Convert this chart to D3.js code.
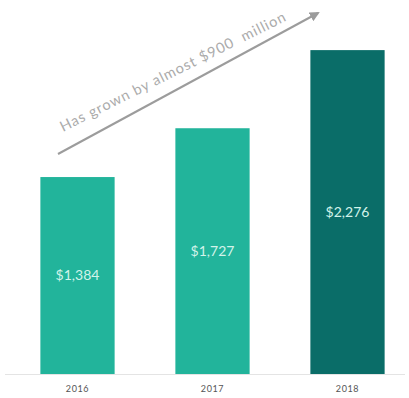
<!DOCTYPE html>
<html>
<head>
<meta charset="utf-8">
<script src="https://cdn.jsdelivr.net/npm/d3@7"></script>
<style>
  html, body { margin: 0; padding: 0; background: #fff; }
  svg { display: block; }
</style>
</head>
<body>
<svg id="chart" width="409" height="398"></svg>
<script>
// Annual totals, in $ millions
const years = ["2016", "2017", "2018"];
const values = [1384, 1727, 2276];
const barColors = ["#22b49b", "#22b49b", "#0a6d68"];
const valueLabels = ["$1,384", "$1,727", "$2,276"];
const growthNote = "Has grown by almost $900  million";

const svg = d3.select("#chart");
const W = 409, H = 398;
const baseY = 374;

const x = d3.scaleBand()
  .domain(years)
  .range([10, 415])
  .paddingInner(0.45)
  .paddingOuter(0.225);

const y = d3.scaleLinear()
  .domain([0, 2600])
  .range([baseY, 4]);

// baseline
svg.append("line")
  .attr("x1", 5).attr("x2", 405)
  .attr("y1", baseY + 0.5).attr("y2", baseY + 0.5)
  .attr("stroke", "#e4e4e4").attr("stroke-width", 1);

// bars
svg.selectAll("rect.bar")
  .data(years)
  .join("rect")
  .attr("class", "bar")
  .attr("x", d => x(d))
  .attr("width", x.bandwidth())
  .attr("y", (d, i) => y(values[i]))
  .attr("height", (d, i) => baseY - y(values[i]))
  .attr("fill", (d, i) => barColors[i]);

// value labels centred in each bar
svg.selectAll("text.val")
  .data(years)
  .join("text")
  .attr("class", "val")
  .attr("x", d => x(d) + x.bandwidth() / 2)
  .attr("y", (d, i) => (y(values[i]) + baseY) / 2)
  .attr("dy", "0.35em")
  .attr("text-anchor", "middle")
  .attr("font-family", "Lato, 'Open Sans', sans-serif")
  .attr("font-size", 14)
  .attr("fill", "#d2f3ea")
  .text((d, i) => valueLabels[i]);

// category axis labels
const xAxis = d3.axisBottom(x).tickSize(0).tickPadding(0);
const gx = svg.append("g")
  .attr("transform", `translate(0, ${baseY + 12})`)
  .call(xAxis);
gx.select(".domain").remove();
gx.selectAll("text")
  .attr("font-family", "Lato, 'Open Sans', sans-serif")
  .attr("font-size", 9)
  .attr("letter-spacing", 0.6)
  .attr("fill", "#555");

// growth arrow
const defs = svg.append("defs");
defs.append("marker")
  .attr("id", "head")
  .attr("viewBox", "0 0 10 10")
  .attr("refX", 8).attr("refY", 5)
  .attr("markerWidth", 5).attr("markerHeight", 5)
  .attr("markerUnits", "strokeWidth")
  .attr("orient", "auto")
  .append("path")
  .attr("d", "M0,0 L10,5 L0,10 Z")
  .attr("fill", "#9c9c9c");

svg.append("line")
  .attr("x1", 58).attr("y1", 154)
  .attr("x2", 318).attr("y2", 13)
  .attr("stroke", "#9c9c9c")
  .attr("stroke-width", 2)
  .attr("marker-end", "url(#head)");

svg.append("text")
  .attr("transform", "translate(63,132) rotate(-26.5)")
  .attr("font-family", "Lato, 'Open Sans', sans-serif")
  .attr("font-size", 14.5)
  .attr("fill", "#ababab")
  .attr("textLength", 250)
  .attr("lengthAdjust", "spacing")
  .style("white-space", "pre")
  .text(growthNote);
</script>
</body>
</html>
